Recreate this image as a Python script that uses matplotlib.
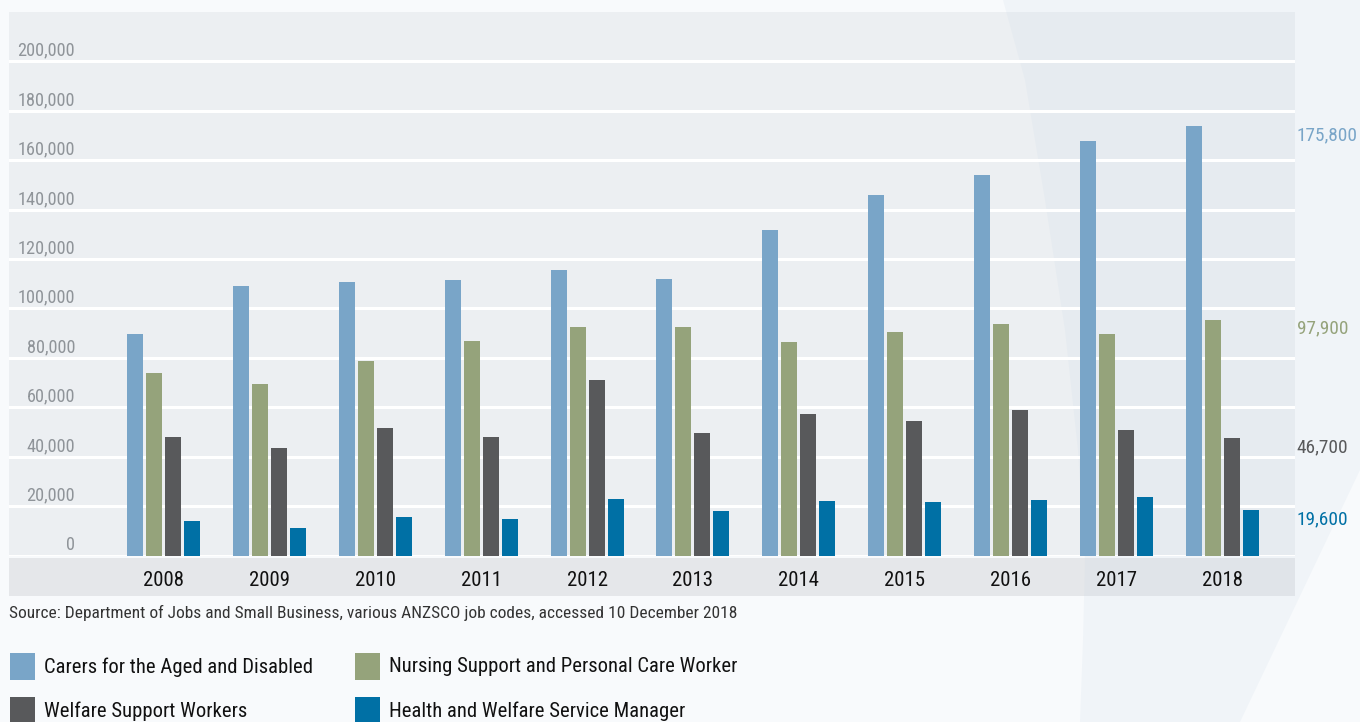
import matplotlib
matplotlib.use("Agg")
import matplotlib.pyplot as plt
from matplotlib.patches import Rectangle, Polygon
import numpy as np

plt.rcParams['font.family'] = ['Roboto Condensed', 'Liberation Sans Narrow', 'Roboto', 'DejaVu Sans']

years = ["2008", "2009", "2010", "2011", "2012", "2013", "2014", "2015", "2016", "2017", "2018"]
carers = [89700, 109100, 110700, 111500, 115600, 112000, 131800, 146000, 154100, 167800, 173900]
nursing = [73900, 69400, 78800, 86900, 92500, 92500, 86400, 90500, 93700, 89700, 95400]
welfare = [48000, 43500, 51600, 48000, 71100, 49600, 57300, 54500, 58900, 50800, 47600]
managers = [14000, 11100, 15600, 14800, 22900, 18000, 22100, 21700, 22500, 23700, 18400]
series_names = ["Carers for the Aged and Disabled", "Nursing Support and Personal Care Worker",
                "Welfare Support Workers", "Health and Welfare Service Manager"]
end_labels = ["175,800", "97,900", "46,700", "19,600"]
yticks = [0, 20000, 40000, 60000, 80000, 100000, 120000, 140000, 160000, 180000, 200000]
source = "Source: Department of Jobs and Small Business, various ANZSCO job codes, accessed 10 December 2018"

colors = ["#79a5c8", "#95a37b", "#58595b", "#0070a5"]
W, H = 1360, 722

fig = plt.figure(figsize=(13.6, 7.22), dpi=100, facecolor="#f8fafc")
renderer = fig.canvas.get_renderer()


def fit_size(s, target_px, start=14):
    # pick a font size so the text is about target_px wide
    t = fig.text(0, 0, s, fontsize=start)
    w = t.get_window_extent(renderer).width
    t.remove()
    return start * target_px / w


# panel: x 9..1295 px, y 12..555.5 px
ax = fig.add_axes([9 / W, 1 - 555.5 / H, (1295 - 9) / W, (555.5 - 12) / H])
ax.set_facecolor("#eceff2")
ax.set_axisbelow(True)

x = np.arange(len(years))
step = 0.1794
width = 0.151
all_series = [carers, nursing, welfare, managers]
for i, vals in enumerate(all_series):
    ax.bar(x + (i - 1.5) * step, vals, width, color=colors[i], zorder=2, label=series_names[i])

ax.set_xlim(-1.459, 10.685)
ax.set_ylim(0, 220000)
ax.set_yticks(yticks)
ax.set_xticks([])
ax.tick_params(left=False, labelleft=False)
ax.grid(axis="y", color="white", linewidth=2.2)
for s in ax.spines.values():
    s.set_visible(False)

# y tick labels sit on the gridlines, inside the panel
ysize = fit_size("200,000", 58)
for t in yticks:
    ax.text((75 - 9) / (1295 - 9), t + 700, f"{t:,}", transform=ax.get_yaxis_transform(),
            ha="right", va="bottom", fontsize=ysize, color="#8f9499")

# x label band
band = Rectangle((9 / W, 1 - 596 / H), (1295 - 9) / W, (596 - 558) / H, transform=fig.transFigure,
                 facecolor="#e5e7ea", edgecolor="none", zorder=0.2, clip_on=False)
ax.add_patch(band)
xsize = fit_size("2008", 41)
for xi, yr in zip(x, years):
    ax.text(xi, -0.046, yr, transform=ax.get_xaxis_transform(), ha="center", va="center",
            fontsize=xsize, color="#111111", clip_on=False)

# decorative swoosh
pts = [(1003, 0), (1025, 80), (1045, 200), (1065, 330), (1078, 450), (1085, 560),
       (1083, 640), (1080, 722), (1240, 722), (1360, 470), (1360, 0)]
swoosh = Polygon([(px / W, 1 - py / H) for px, py in pts], closed=True, transform=fig.transFigure,
                 facecolor="#c9d9e8", edgecolor="none", alpha=0.17, zorder=0.3, clip_on=False)
ax.add_patch(swoosh)

# end labels for 2018
rsize = fit_size("175,800", 61)
last = [s[-1] for s in all_series]
for lab, v, c in zip(end_labels, last, colors):
    ax.text(1.0015, v, lab, transform=ax.get_yaxis_transform(), ha="left", va="top",
            fontsize=rsize, color=c, clip_on=False)

fig.text(9 / W, 1 - 613 / H, source, ha="left", va="center",
         fontsize=fit_size(source, 729), color="#333333")

# legend
lsize = fit_size(series_names[0], 271)
leg_pos = [(10, 653), (355, 653), (10, 697), (355, 697)]
for (lx, ly), name, c in zip(leg_pos, series_names, colors):
    fig.patches.append(Rectangle((lx / W, 1 - (ly + 27) / H), 25 / W, 27 / H, transform=fig.transFigure,
                                 facecolor=c, edgecolor="none"))
    fig.text((lx + 34) / W, 1 - (ly + 14) / H, name, ha="left", va="center", fontsize=lsize, color="#111111")

fig.savefig("out.png", dpi=100, facecolor=fig.get_facecolor())
